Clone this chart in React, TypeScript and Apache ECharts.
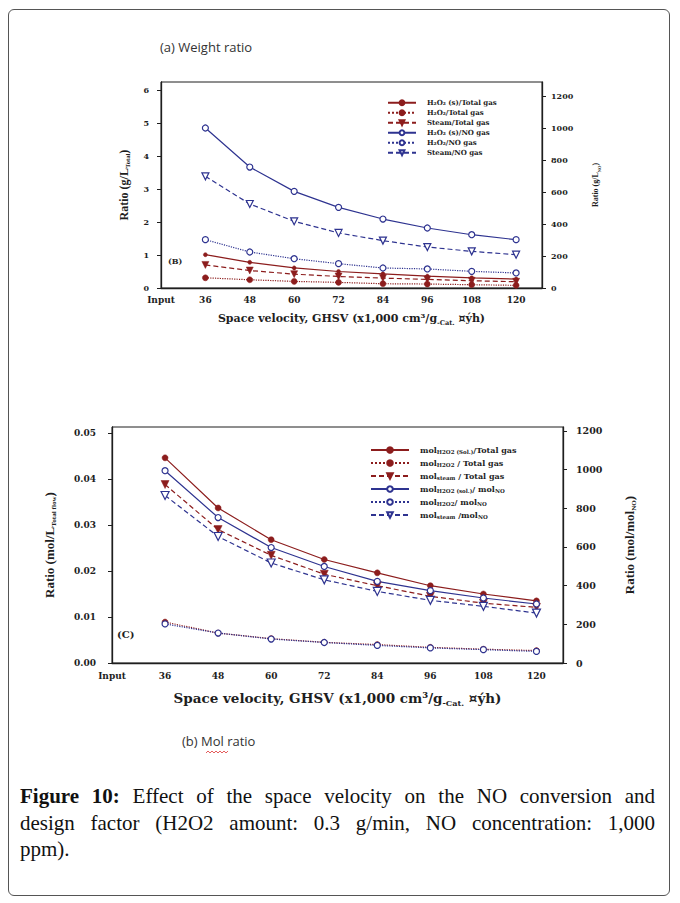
import React, { useEffect, useRef } from 'react';
import * as echarts from 'echarts';

// x positions (GHSV, x1,000 cm3/g-Cat.·h); 24 = "Input" tick
const gsv = [36, 48, 60, 72, 84, 96, 108, 120];
const xTickLabels: Record<number, string> = { 24: 'Input', 36: '36', 48: '48', 60: '60', 72: '72', 84: '84', 96: '96', 108: '108', 120: '120' };

// (a) Weight ratio — left axis g/L_Total
const h2o2sTotal = [1.01, 0.78, 0.61, 0.5, 0.43, 0.36, 0.31, 0.27];
const h2o2Total = [0.31, 0.25, 0.2, 0.17, 0.13, 0.12, 0.1, 0.08];
const steamTotal = [0.7, 0.53, 0.42, 0.35, 0.3, 0.26, 0.22, 0.19];
// right axis g/L_NO
const h2o2sNO = [1000, 756, 604, 504, 431, 375, 333, 302];
const h2o2NO = [302, 225, 183, 152, 125, 119, 104, 94];
const steamNO = [698, 525, 417, 344, 296, 256, 229, 208];

// (b) Mol ratio — left axis mol/L_Total flow
const molH2o2SolTotal = [0.0446, 0.0337, 0.0268, 0.0225, 0.0196, 0.0168, 0.015, 0.0135];
const molH2o2Total = [0.0089, 0.0065, 0.0053, 0.0045, 0.004, 0.0034, 0.003, 0.0027];
const molSteamTotal = [0.0388, 0.029, 0.0234, 0.0193, 0.0168, 0.0145, 0.013, 0.0121];
// right axis mol/mol_NO
const molH2o2SolNO = [994, 752, 597, 499, 422, 374, 336, 305];
const molH2o2NO = [202, 155, 124, 106, 91, 78, 69, 60];
const molSteamNO = [866, 654, 517, 430, 370, 324, 293, 258];

const topNames = ['H₂O₂ (s)/Total gas', 'H₂O₂/Total gas', 'Steam/Total gas', 'H₂O₂ (s)/NO gas', 'H₂O₂/NO gas', 'Steam/NO gas'];
const botNames = ['molH2O2(Sol.)/Total gas', 'molH2O2/Total gas', 'molsteam/Total gas', 'molH2O2(sol.)/molNO', 'molH2O2/molNO', 'molsteam/molNO'];
const botRich: Record<string, string> = {
  'molH2O2(Sol.)/Total gas': '{a|mol}{s|H2O2 (Sol.)}{a|/Total gas}',
  'molH2O2/Total gas': '{a|mol}{s|H2O2}{a| / Total gas}',
  'molsteam/Total gas': '{a|mol}{s|steam}{a| / Total gas}',
  'molH2O2(sol.)/molNO': '{a|mol}{s|H2O2 (sol.)}{a|/ mol}{s|NO}',
  'molH2O2/molNO': '{a|mol}{s|H2O2}{a|/ mol}{s|NO}',
  'molsteam/molNO': '{a|mol}{s|steam}{a| /mol}{s|NO}',
};

const RED = '#8c1d1d';
const BLUE = '#2e3390';
const INK = '#1e1e1e';
const SERIF = 'DejaVu Serif';

const pts = (ys: number[]) => gsv.map((x, i) => [x, ys[i]]);

function mkSeries(name: string, ys: number[], xi: number, yi: number, color: string, type: string, symbol: string, size: number, open: boolean, rotate = 0) {
  return {
    name,
    type: 'line',
    xAxisIndex: xi,
    yAxisIndex: yi,
    data: pts(ys),
    color,
    symbol,
    symbolSize: size,
    symbolRotate: rotate,
    lineStyle: { color, width: 1.2, type: type === 'dashed' ? [5, 3] : type },
    itemStyle: open ? { color: '#ffffff', borderColor: color, borderWidth: 1.2 } : { color, borderColor: color, borderWidth: 0.5 },
    emphasis: { disabled: true },
  };
}

const tickLbl = (size: number) => ({ fontFamily: SERIF, fontWeight: 'bold' as const, fontSize: size, color: INK });

function xAxis(gridIndex: number, max: number, nameRich: string, nameGap: number, nameSize: number, margin: number) {
  return {
    type: 'value',
    gridIndex,
    min: 24,
    max,
    interval: 12,
    axisLine: { show: true, lineStyle: { color: INK, width: 1.3 } },
    axisTick: { show: false },
    splitLine: { show: false },
    axisLabel: { ...tickLbl(9), margin, showMaxLabel: false, formatter: (v: number) => xTickLabels[v] ?? '' },
    name: nameRich,
    nameLocation: 'middle',
    nameGap,
    nameTextStyle: {
      rich: {
        a: { fontFamily: SERIF, fontWeight: 'bold', fontSize: nameSize, color: INK, lineHeight: nameSize + 4 },
        s: { fontFamily: SERIF, fontWeight: 'bold', fontSize: nameSize * 0.6, color: INK, verticalAlign: 'bottom', lineHeight: nameSize + 4 },
      },
    },
  };
}

function yAxis(gridIndex: number, position: string, max: number, interval: number, fmt: (v: number) => string, lblSize: number, margin: number, nameRich: string, nameGap: number, nameSize: number) {
  return {
    type: 'value',
    gridIndex,
    position,
    min: 0,
    max,
    interval,
    axisLine: { show: true, lineStyle: { color: INK, width: 1.3 } },
    axisTick: { show: true, length: 4, lineStyle: { color: INK, width: 1 } },
    splitLine: { show: false },
    axisLabel: { ...tickLbl(lblSize), margin, showMaxLabel: false, formatter: fmt },
    name: nameRich,
    nameLocation: 'middle',
    nameRotate: 90,
    nameGap,
    nameTextStyle: {
      rich: {
        a: { fontFamily: 'Liberation Serif', fontWeight: 'bold', fontSize: nameSize, color: INK, lineHeight: nameSize + 3 },
        s: { fontFamily: 'Liberation Serif', fontWeight: 'bold', fontSize: nameSize * 0.55, color: INK, verticalAlign: 'bottom', lineHeight: nameSize + 3 },
      },
    },
  };
}

export default function App() {
  const ref = useRef<HTMLDivElement>(null);
  useEffect(() => {
    if (!ref.current) return;
    const chart = echarts.init(ref.current, undefined, { renderer: 'svg' });
    const xName = '{a|Space velocity, GHSV (x1,000 cm³/g}{s|-Cat.}{a| ¤ýh)}';
    chart.setOption({
      animation: false,
      backgroundColor: 'transparent',
      grid: [
        { left: 161, top: 82, width: 381, height: 206, show: true, borderColor: INK, borderWidth: 1, backgroundColor: 'transparent' },
        { left: 112, top: 427, width: 451, height: 236, show: true, borderColor: INK, borderWidth: 1, backgroundColor: 'transparent' },
      ],
      xAxis: [
        xAxis(0, 127, xName, 23, 11, 7),
        xAxis(1, 126, xName, 26, 13.5, 8),
      ],
      yAxis: [
        yAxis(0, 'left', 6.25, 1, (v) => String(v), 8, 12, '{a|Ratio (g/L}{s|Total}{a|)}', 30, 12),
        yAxis(0, 'right', 1287.5, 200, (v) => String(v), 8, 9, '{a|Ratio (g/L}{s|NO}{a|)}', 48, 8),
        yAxis(1, 'left', 0.0513, 0.01, (v) => v.toFixed(2), 9, 16, '{a|Ratio (mol/L}{s|Total flow}{a|)}', 55, 13),
        yAxis(1, 'right', 1220, 200, (v) => String(v), 9.5, 13, '{a|Ratio (mol/mol}{s|NO}{a|)}', 58, 13),
      ],
      legend: [
        {
          data: topNames,
          orient: 'vertical',
          left: 387,
          top: 99,
          padding: 0,
          itemWidth: 28,
          itemHeight: 6,
          itemGap: 2.5,
          selectedMode: false,
          textStyle: { fontFamily: SERIF, fontWeight: 'bold', fontSize: 7, lineHeight: 7.5, color: INK, padding: [0, 0, 0, 6] },
        },
        {
          data: botNames,
          orient: 'vertical',
          left: 370,
          top: 446,
          padding: 0,
          itemWidth: 38,
          itemHeight: 7,
          itemGap: 4,
          selectedMode: false,
          formatter: (n: string) => botRich[n] ?? n,
          textStyle: {
            padding: [0, 0, 0, 6],
            rich: {
              a: { fontFamily: SERIF, fontWeight: 'bold', fontSize: 8, color: INK, lineHeight: 10 },
              s: { fontFamily: SERIF, fontWeight: 'bold', fontSize: 5.5, color: INK, verticalAlign: 'bottom', lineHeight: 10 },
            },
          },
        },
      ],
      series: [
        mkSeries(topNames[0], h2o2sTotal, 0, 0, RED, 'solid', 'circle', 4, false),
        mkSeries(topNames[1], h2o2Total, 0, 0, RED, 'dotted', 'circle', 6, false),
        mkSeries(topNames[2], steamTotal, 0, 0, RED, 'dashed', 'triangle', 7, false, 180),
        mkSeries(topNames[3], h2o2sNO, 0, 1, BLUE, 'solid', 'circle', 6, true),
        mkSeries(topNames[4], h2o2NO, 0, 1, BLUE, 'dotted', 'circle', 6, true),
        mkSeries(topNames[5], steamNO, 0, 1, BLUE, 'dashed', 'triangle', 7, true, 180),
        mkSeries(botNames[0], molH2o2SolTotal, 1, 2, RED, 'solid', 'circle', 6, false),
        mkSeries(botNames[1], molH2o2Total, 1, 2, RED, 'dotted', 'circle', 6, false),
        mkSeries(botNames[2], molSteamTotal, 1, 2, RED, 'dashed', 'triangle', 8, false, 180),
        mkSeries(botNames[3], molH2o2SolNO, 1, 3, BLUE, 'solid', 'circle', 6, true),
        mkSeries(botNames[4], molH2o2NO, 1, 3, BLUE, 'dotted', 'circle', 6, true),
        mkSeries(botNames[5], molSteamNO, 1, 3, BLUE, 'dashed', 'triangle', 8, true, 180),
      ],
      graphic: [
        { type: 'text', left: 160, top: 40, style: { text: '(a) Weight ratio', font: '13px "Open Sans"', fill: '#333' } },
        { type: 'text', left: 182, top: 734, style: { text: '(b) Mol ratio', font: '13px "Open Sans"', fill: '#333' } },
        { type: 'polyline', shape: { points: [[206, 753], [208, 751], [210, 753], [212, 751], [214, 753], [216, 751], [218, 753], [220, 751], [222, 753], [224, 751], [226, 753], [228, 751]] }, style: { stroke: '#d33', lineWidth: 0.8, fill: 'none' } },
        { type: 'text', left: 168, top: 257, style: { text: '(B)', font: `bold 8px "${SERIF}"`, fill: INK } },
        { type: 'text', left: 117, top: 629, style: { text: '(C)', font: `bold 10px "${SERIF}"`, fill: INK } },
      ],
    });
    return () => chart.dispose();
  }, []);

  return (
    <div style={{ position: 'absolute', left: 0, top: 0, width: 680, height: 903, background: '#fff' }}>
      <div style={{ position: 'absolute', left: 8, top: 9, width: 662, height: 887, border: '1px solid #555', borderRadius: 6, boxSizing: 'border-box' }} />
      <div ref={ref} style={{ position: 'absolute', left: 0, top: 0, width: 680, height: 903 }} />
      <div style={{ position: 'absolute', left: 20, top: 783, width: 635, fontFamily: '"Liberation Serif", serif', fontSize: 21, lineHeight: '26.5px', color: '#111' }}>
        <div style={{ textAlign: 'justify', textAlignLast: 'justify' }}><b>Figure 10:</b> Effect of the space velocity on the NO conversion and</div>
        <div style={{ textAlign: 'justify', textAlignLast: 'justify' }}>design factor (H2O2 amount: 0.3 g/min, NO concentration: 1,000</div>
        <div>ppm).</div>
      </div>
    </div>
  );
}
